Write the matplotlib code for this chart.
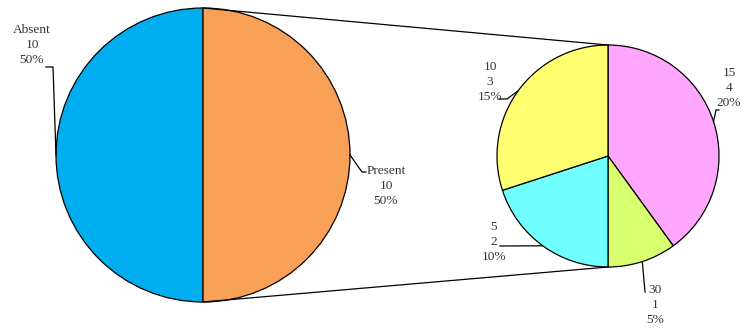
import numpy as np
import matplotlib
matplotlib.use("Agg")
import matplotlib.pyplot as plt

# Attendance split (main pie)
main_labels = ["Absent", "Present"]
main_counts = [10, 10]

# Breakdown of the "Present" group (secondary pie)
sub_labels = ["15", "30", "5", "10"]
sub_counts = [4, 1, 2, 3]

main_colors = ["#00AEEF", "#F8A055"]
sub_colors = ["#FFA6FF", "#D8FF6E", "#70FFFF", "#FFFF70"]

W, H = 742, 329
total = sum(main_counts)

fig = plt.figure(figsize=(W / 100, H / 100), dpi=100)
ax = fig.add_axes([0, 0, 1, 1])

big_c, big_r = (203, H - 155), 147
small_c, small_r = (608, H - 156), 111

wp = dict(edgecolor="black", linewidth=0.9)
big_w, _ = ax.pie(main_counts, colors=main_colors, startangle=90,
                  counterclock=True, center=big_c, radius=big_r,
                  wedgeprops=wp, frame=True)
small_w, _ = ax.pie(sub_counts, colors=sub_colors, startangle=90,
                    counterclock=False, center=small_c, radius=small_r,
                    wedgeprops=wp, frame=True)

# Connector lines between the two pies
ax.plot([big_c[0], small_c[0]], [big_c[1] + big_r, small_c[1] + small_r],
        color="black", lw=0.9)
ax.plot([big_c[0], small_c[0]], [big_c[1] - big_r, small_c[1] - small_r],
        color="black", lw=0.9)


def mid_point(w, c, r):
    a = np.deg2rad((w.theta1 + w.theta2) / 2)
    return c[0] + r * np.cos(a), c[1] + r * np.sin(a)


txt = dict(family="Liberation Serif", fontsize=9.6, color="#333333",
           ha="center", va="center", linespacing=1.32)
lead = dict(color="black", lw=0.9)

# label positions (text centre) and leader bends, in pixel units (y from top)
main_layout = [((32, 45), [(53, 67), (46, 67)]),
               ((386, 186), [(362, 172), (366, 172)])]
sub_layout = [((729, 88), [(716, 110), (719, 110)]),
              ((655, 305), [(645, 292)]),
              ((494, 242), [(500, 246)]),
              ((490, 82), [(507, 99), (499, 99)])]

for w, lab, n, (pos, bends) in zip(big_w, main_labels, main_counts, main_layout):
    x0, y0 = mid_point(w, big_c, big_r)
    xs = [x0] + [b[0] for b in bends]
    ys = [y0] + [H - b[1] for b in bends]
    ax.plot(xs, ys, **lead)
    ax.text(pos[0], H - pos[1], f"{lab}\n{n}\n{n / total:.0%}", **txt)

for w, lab, n, (pos, bends) in zip(small_w, sub_labels, sub_counts, sub_layout):
    x0, y0 = mid_point(w, small_c, small_r)
    xs = [x0] + [b[0] for b in bends]
    ys = [y0] + [H - b[1] for b in bends]
    ax.plot(xs, ys, **lead)
    ax.text(pos[0], H - pos[1], f"{lab}\n{n}\n{n / total:.0%}", **txt)

ax.set_xlim(0, W)
ax.set_ylim(0, H)
ax.set_aspect("equal")
ax.axis("off")

fig.savefig("out.png", dpi=100, facecolor="white")
